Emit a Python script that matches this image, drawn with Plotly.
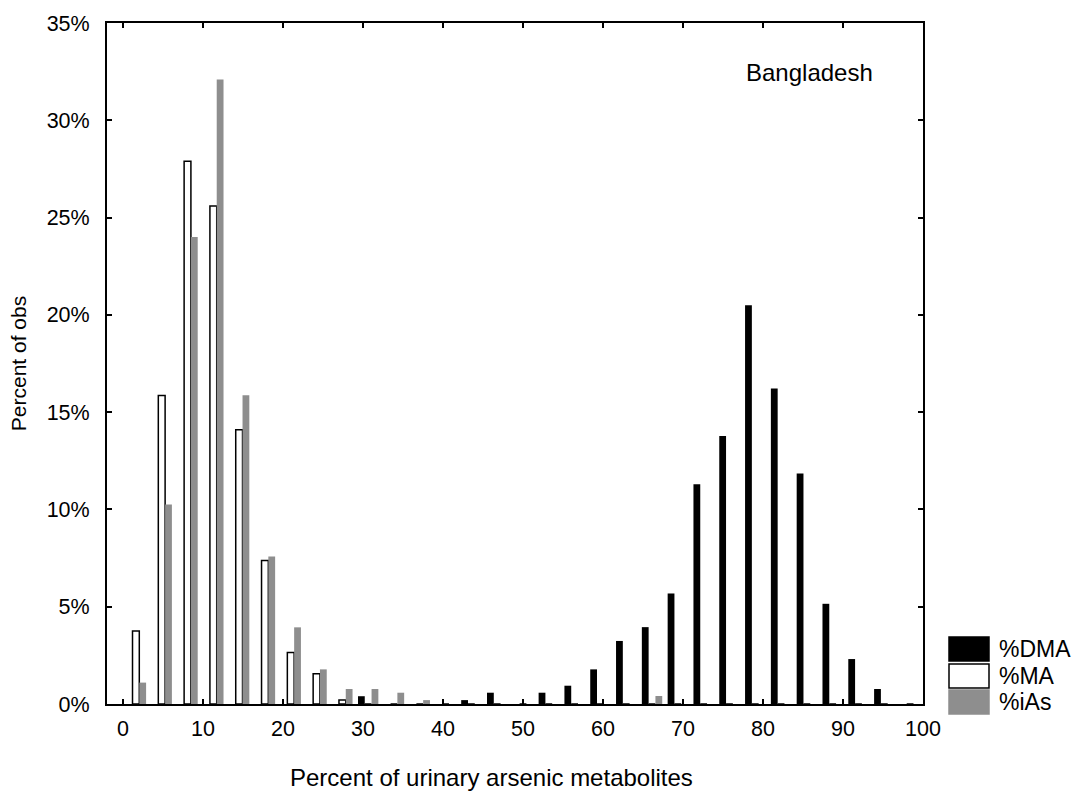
import numpy as np
import plotly.graph_objects as go

# 31 histogram bins of equal width spanning 0-100 %
n_bins = 31
bin_edges = np.linspace(0, 100, n_bins + 1)
bin_centers = ((bin_edges[:-1] + bin_edges[1:]) / 2).tolist()

dma = [0, 0, 0, 0, 0, 0, 0, 0, 0, 0.4, 0, 0, 0, 0.2, 0.58, 0, 0.58, 0.94, 1.78,
       3.24, 3.95, 5.68, 11.3, 13.78, 20.5, 16.22, 11.85, 5.15, 2.31, 0.77, 0]
ma = [3.75, 15.85, 27.9, 25.6, 14.1, 7.37, 2.65, 1.56, 0.2, 0, 0, 0, 0, 0, 0, 0,
      0, 0, 0, 0, 0, 0, 0, 0, 0, 0, 0, 0, 0, 0, 0]
ias = [1.1, 10.25, 24.0, 32.1, 15.87, 7.58, 3.94, 1.78, 0.77, 0.77, 0.58, 0.2,
       0, 0, 0, 0, 0, 0, 0, 0, 0.41, 0, 0, 0, 0, 0, 0, 0, 0, 0, 0]

series_names = ["%DMA", "%MA", "%iAs"]
x_ticks = [0, 10, 20, 30, 40, 50, 60, 70, 80, 90, 100]
y_ticks = [0, 5, 10, 15, 20, 25, 30, 35]
y_tick_labels = [f"{v}%" for v in y_ticks]

FONT = "Liberation Sans, Arial, sans-serif"
GRAY = "#8e8e8e"
TICK_SIZE = 21.5

fig = go.Figure()
fig.add_trace(go.Bar(x=bin_centers, y=dma, name=series_names[0],
                     marker=dict(color="black", line=dict(width=0)),
                     showlegend=False))
fig.add_trace(go.Bar(x=bin_centers, y=ma, name=series_names[1],
                     marker=dict(color="white", line=dict(color="black", width=1.5)),
                     showlegend=False))
fig.add_trace(go.Bar(x=bin_centers, y=ias, name=series_names[2],
                     marker=dict(color=GRAY, line=dict(width=0)),
                     showlegend=False))

fig.update_layout(
    width=1080, height=796,
    margin=dict(l=107, r=157, t=23, b=92),
    paper_bgcolor="white", plot_bgcolor="white",
    barmode="group", bargap=0.21, bargroupgap=0,
    font=dict(family=FONT, size=20, color="black"),
)
fig.update_xaxes(range=[-2, 100], tickvals=x_ticks, ticks="inside", ticklen=5,
                 tickwidth=1.5, tickcolor="black", showline=True, linecolor="black",
                 linewidth=2, mirror="ticks", showgrid=False, zeroline=False,
                 tickfont=dict(size=TICK_SIZE), ticklabelstandoff=4)
fig.update_yaxes(range=[0, 35], tickvals=y_ticks, ticktext=y_tick_labels,
                 ticks="inside", ticklen=5, tickwidth=1.5, tickcolor="black",
                 showline=True, linecolor="black", linewidth=2, mirror="ticks",
                 showgrid=False, zeroline=False, tickfont=dict(size=TICK_SIZE),
                 ticklabelstandoff=11,
                 title=dict(text="Percent of obs", font=dict(size=21), standoff=14))

# x-axis title and panel label
fig.add_annotation(text="Percent of urinary arsenic metabolites", xref="paper", yref="paper",
                   x=(491 - 107) / 816, y=-(777 - 704) / 681, xanchor="center",
                   yanchor="middle", showarrow=False, font=dict(size=24))
fig.add_annotation(text="Bangladesh", xref="paper", yref="paper",
                   x=(809 - 107) / 816, y=(704 - 72) / 681, xanchor="center",
                   yanchor="middle", showarrow=False, font=dict(size=24))

# legend with large swatches, drawn outside the plot at right
legend_fill = ["black", "white", GRAY]
legend_line = ["black", "black", GRAY]
sw_top = [637, 664, 690]
sw_h = 24
for name, fc, lc, top in zip(series_names, legend_fill, legend_line, sw_top):
    fig.add_shape(type="rect", xref="paper", yref="paper",
                  x0=(949 - 107) / 816, x1=(989 - 107) / 816,
                  y0=(704 - top - sw_h) / 681, y1=(704 - top) / 681,
                  fillcolor=fc, line=dict(color=lc, width=1.5))
    fig.add_annotation(text=name, xref="paper", yref="paper",
                       x=(997 - 107) / 816, y=(704 - top - sw_h / 2) / 681,
                       xanchor="left", yanchor="middle", showarrow=False,
                       font=dict(size=23))

fig.write_html("out.html")
